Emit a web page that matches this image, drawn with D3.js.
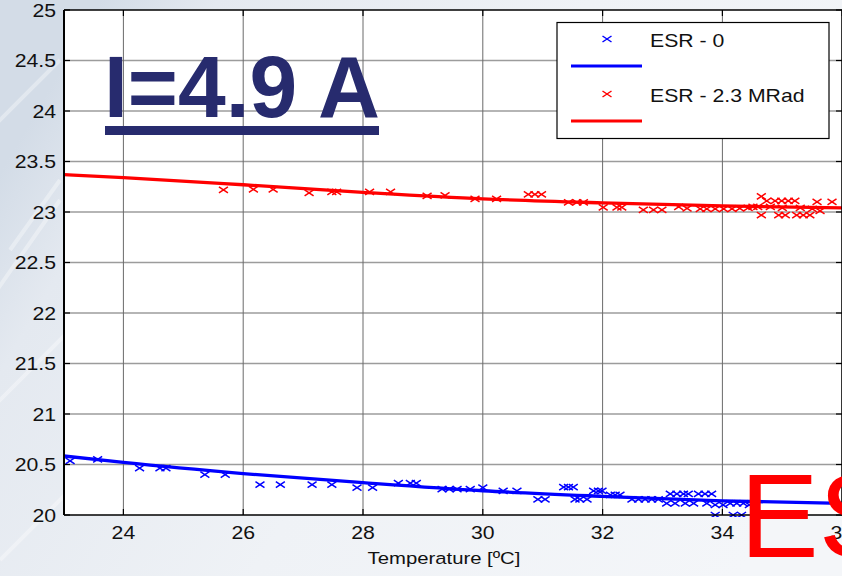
<!DOCTYPE html>
<html>
<head>
<meta charset="utf-8">
<script src="https://cdn.jsdelivr.net/npm/d3@7"></script>
<style>
  html, body { margin: 0; padding: 0; background: #eef2f6; }
  svg { display: block; }
  text { font-family: "Liberation Sans", Arial, sans-serif; }
</style>
</head>
<body>
<svg id="chart" width="842" height="576"></svg>
<script>
// Temperature ticks and ESR tick labels
const xTicks = [24, 26, 28, 30, 32, 34, 36];
const yTicks = [20, 20.5, 21, 21.5, 22, 22.5, 23, 23.5, 24, 24.5, 25];

// Measured ESR before irradiation: [temperature, ESR]
const esr0 = [
  [23.11,20.535],[23.57,20.55],[24.27,20.465],[24.61,20.465],[24.71,20.465],
  [25.36,20.40],[25.70,20.40],[26.28,20.30],[26.62,20.30],[27.15,20.30],[27.48,20.30],
  [27.90,20.27],[28.16,20.27],[28.59,20.315],[28.79,20.315],[28.89,20.315],
  [29.32,20.255],[29.44,20.255],[29.57,20.255],[29.79,20.255],[30.00,20.27],
  [30.34,20.24],[30.57,20.24],[30.92,20.155],[31.04,20.155],
  [31.35,20.275],[31.43,20.275],[31.51,20.275],[31.54,20.155],[31.62,20.155],[31.74,20.155],
  [31.85,20.24],[31.93,20.24],[31.99,20.24],[32.13,20.20],[32.21,20.20],[32.29,20.20],
  [32.49,20.155],[32.60,20.155],[32.71,20.155],[32.82,20.155],[32.93,20.155],
  [33.07,20.115],[33.13,20.21],[33.21,20.115],[33.24,20.21],[33.35,20.21],[33.38,20.115],
  [33.43,20.21],[33.52,20.115],[33.60,20.21],[33.71,20.21],[33.74,20.115],[33.82,20.21],
  [33.88,20.10],[33.88,20.0],[34.01,20.10],[34.13,20.115],[34.18,20.0],[34.24,20.115],
  [34.32,20.0],[34.35,20.115],[34.45,20.10],[34.55,20.08]
];

// Measured ESR after 2.3 MRad: [temperature, ESR]
const esrRad = [
  [25.67,23.22],[26.17,23.225],[26.50,23.225],[27.10,23.19],[27.48,23.20],[27.56,23.20],
  [28.11,23.20],[28.46,23.20],[29.07,23.16],[29.37,23.165],[29.87,23.13],[30.23,23.13],
  [30.76,23.175],[30.87,23.175],[30.98,23.175],[31.43,23.095],[31.57,23.095],[31.68,23.095],
  [32.01,23.045],[32.24,23.045],[32.32,23.045],[32.68,23.02],[32.85,23.02],[32.99,23.02],
  [33.27,23.05],[33.41,23.035],[33.63,23.03],[33.74,23.03],[33.88,23.03],[34.02,23.03],
  [34.16,23.03],[34.29,23.035],[34.43,23.04],[34.51,23.05],[34.59,23.05],[34.65,23.155],
  [34.74,23.11],[34.88,23.11],[34.99,23.11],[35.10,23.11],[35.21,23.11],
  [34.65,22.97],[34.94,22.97],[35.05,22.97],[35.24,22.97],[35.35,22.97],[35.46,22.97],
  [34.80,23.05],[35.00,23.04],[35.30,23.04],[35.50,23.03],
  [35.58,23.10],[35.63,23.01],[35.83,23.10]
];

// Fitted trend lines sampled at these temperatures
const fitTemps = [23, 24, 26, 28, 30, 32, 34, 36];
const fit0     = [20.585, 20.52, 20.41, 20.32, 20.24, 20.185, 20.14, 20.115];
const fitRad   = [23.37, 23.34, 23.27, 23.195, 23.13, 23.09, 23.06, 23.04];

const legendLabels = ["ESR - 0", "ESR - 2.3 MRad"];
const colors = ["#0000ff", "#ff0000"];
const titleText = "I=4.9 A";
const overlayText = "ES";
const xLabel = "Temperature [ºC]";

const svg = d3.select("#chart");
const W = 842, H = 576;
const plot = { left: 64, right: 843, top: 10, bottom: 515 };

const x = d3.scaleLinear().domain([23, 36]).range([63.5, 842.2]);
const y = d3.scaleLinear().domain([20, 25]).range([plot.bottom, plot.top]);

// slide background
const defs = svg.append("defs");
const bg = defs.append("linearGradient").attr("id", "bg")
  .attr("x1", "0").attr("y1", "0.3").attr("x2", "1").attr("y2", "0.7");
bg.append("stop").attr("offset", "0").attr("stop-color", "#d3dce7");
bg.append("stop").attr("offset", "0.12").attr("stop-color", "#e4e9f0");
bg.append("stop").attr("offset", "0.5").attr("stop-color", "#eff2f6");
bg.append("stop").attr("offset", "1").attr("stop-color", "#f4f6f9");
svg.append("rect").attr("width", W).attr("height", H).attr("fill", "url(#bg)");

// faint light streaks on the left of the slide
const streaks = [[-20, 420, 70, 330], [-10, 300, 60, 200], [0, 560, 90, 470], [-30, 150, 60, 60], [10, 250, 60, 180]];
svg.append("g").selectAll("line").data(streaks).join("line")
  .attr("x1", d => d[0]).attr("y1", d => d[1]).attr("x2", d => d[2]).attr("y2", d => d[3])
  .attr("stroke", "#ffffff").attr("stroke-opacity", 0.35).attr("stroke-width", 4);

// plot area
svg.append("rect")
  .attr("x", plot.left).attr("y", plot.top)
  .attr("width", plot.right - plot.left).attr("height", plot.bottom - plot.top)
  .attr("fill", "#ffffff");

const clip = defs.append("clipPath").attr("id", "plotclip");
clip.append("rect").attr("x", plot.left).attr("y", plot.top - 6)
  .attr("width", plot.right - plot.left).attr("height", plot.bottom - plot.top + 8);

// grid
const grid = svg.append("g");
grid.selectAll("line.h").data(yTicks.slice(1, -1)).join("line")
  .attr("x1", plot.left).attr("x2", plot.right)
  .attr("y1", d => y(d)).attr("y2", d => y(d))
  .attr("stroke", "#9c9c9c").attr("stroke-width", 1.4);
grid.selectAll("line.v").data(xTicks).join("line")
  .attr("y1", plot.top).attr("y2", plot.bottom)
  .attr("x1", d => x(d)).attr("x2", d => x(d))
  .attr("stroke", "#6a6a6a").attr("stroke-width", 1);

// fitted lines
const data = svg.append("g").attr("clip-path", "url(#plotclip)");
const line = d3.line().x(d => x(d[0])).y(d => y(d[1])).curve(d3.curveMonotoneX);
[fit0, fitRad].forEach((vals, i) => {
  data.append("path")
    .datum(fitTemps.map((t, k) => [t, vals[k]]))
    .attr("d", line)
    .attr("fill", "none")
    .attr("stroke", colors[i])
    .attr("stroke-width", 3.3);
});

// x markers
function cross(sel, color) {
  sel.append("path")
    .attr("d", "M-4.5,-3L4.5,3M-4.5,3L4.5,-3")
    .attr("stroke", color).attr("stroke-width", 1.5).attr("fill", "none");
}
[esr0, esrRad].forEach((pts, i) => {
  data.append("g").selectAll("g").data(pts).join("g")
    .attr("transform", d => `translate(${x(d[0])},${y(d[1])})`)
    .call(cross, colors[i]);
});

// axes frame and ticks
const axes = svg.append("g").attr("stroke", "#000");
axes.append("line").attr("x1", plot.left).attr("x2", plot.left).attr("y1", plot.top).attr("y2", plot.bottom).attr("stroke-width", 2);
axes.append("line").attr("x1", plot.left).attr("x2", plot.right).attr("y1", plot.bottom).attr("y2", plot.bottom).attr("stroke-width", 1.5);
axes.append("line").attr("x1", plot.left).attr("x2", plot.right).attr("y1", plot.top).attr("y2", plot.top).attr("stroke-width", 1.5);
axes.append("line").attr("x1", plot.right - 1).attr("x2", plot.right - 1).attr("y1", plot.top).attr("y2", plot.bottom).attr("stroke-width", 1.5);
axes.selectAll("line.yt").data(yTicks).join("line")
  .attr("x1", plot.left).attr("x2", plot.left + 6)
  .attr("y1", d => y(d)).attr("y2", d => y(d)).attr("stroke-width", 1.2);
axes.selectAll("line.yr").data(yTicks).join("line")
  .attr("x1", plot.right - 7).attr("x2", plot.right)
  .attr("y1", d => y(d)).attr("y2", d => y(d)).attr("stroke-width", 1.2);
axes.selectAll("line.xb").data(xTicks).join("line")
  .attr("x1", d => x(d)).attr("x2", d => x(d))
  .attr("y1", plot.bottom).attr("y2", plot.bottom - 6).attr("stroke-width", 1.2);
axes.selectAll("line.xt").data(xTicks).join("line")
  .attr("x1", d => x(d)).attr("x2", d => x(d))
  .attr("y1", plot.top).attr("y2", plot.top + 6).attr("stroke-width", 1.2);

// tick labels (slightly wide, as the slide is stretched horizontally)
const sx = 1.18;
svg.append("g").selectAll("text").data(yTicks).join("text")
  .attr("transform", d => `translate(56,${y(d) + 6.5}) scale(${sx},1)`)
  .attr("text-anchor", "end")
  .attr("font-size", 18).attr("fill", "#111")
  .text(d => d3.format("~g")(d));
svg.append("g").selectAll("text").data(xTicks).join("text")
  .attr("transform", d => `translate(${x(d)},${539}) scale(${sx},1)`)
  .attr("text-anchor", "middle")
  .attr("font-size", 18).attr("fill", "#111")
  .text(d => d);
svg.append("text")
  .attr("transform", `translate(444,${564}) scale(${sx},1)`)
  .attr("text-anchor", "middle")
  .attr("font-size", 17.2).attr("fill", "#111")
  .text(xLabel);

// legend
const lg = svg.append("g");
lg.append("rect").attr("x", 557).attr("y", 22.5).attr("width", 272).attr("height", 116)
  .attr("fill", "#fff").attr("stroke", "#000").attr("stroke-width", 1.2);
legendLabels.forEach((lab, i) => {
  const oy = i * 55;
  lg.append("g").attr("transform", `translate(607,${39 + oy})`).call(cross, colors[i]);
  lg.append("line").attr("x1", 571).attr("x2", 642).attr("y1", 66 + oy).attr("y2", 66 + oy)
    .attr("stroke", colors[i]).attr("stroke-width", 3);
  lg.append("text")
    .attr("transform", `translate(650,${46.5 + oy}) scale(${sx},1)`)
    .attr("font-size", 18).attr("fill", "#111")
    .text(lab);
});

// current label
svg.append("text")
  .attr("x", 104).attr("y", 117)
  .attr("font-size", 87).attr("font-weight", "bold").attr("fill", "#272b6e")
  .attr("textLength", 276).attr("lengthAdjust", "spacingAndGlyphs")
  .text(titleText);
svg.append("rect").attr("x", 105).attr("y", 126).attr("width", 274).attr("height", 9)
  .attr("fill", "#272b6e");

// large overlay text from the slide
svg.append("text")
  .attr("x", 740).attr("y", 557)
  .attr("font-size", 118).attr("fill", "#ff0000")
  .text(overlayText);
</script>
</body>
</html>
